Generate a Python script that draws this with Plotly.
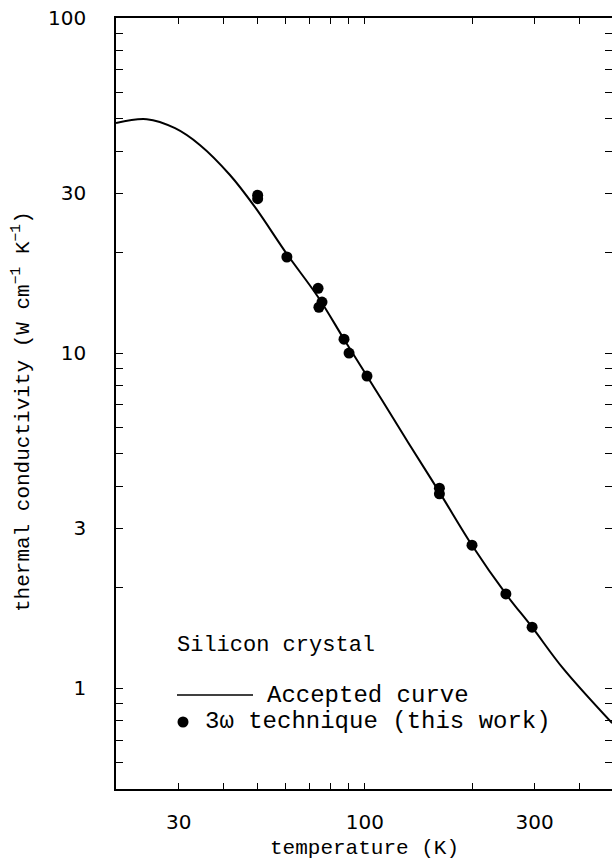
import numpy as np
import plotly.graph_objects as go

# Accepted thermal conductivity curve for crystalline silicon
curve_T = [20, 24.4, 29.3, 34.4, 41.8, 49.1, 60.4, 73.9, 87.4, 101.4,
           111.7, 132.2, 162.6, 200, 249, 295, 360, 495]
curve_k = [48.6, 49.9, 46.9, 41.8, 34.0, 27.3, 19.75, 14.7, 11.0, 8.54,
           7.24, 5.42, 3.82, 2.67, 1.91, 1.52, 1.147, 0.786]

# 3-omega measurements
meas_T = [50, 50, 60.4, 73.9, 75.8, 74.3, 87.4, 90.3, 101.4, 162, 162, 200, 249, 295]
meas_k = [29.6, 28.9, 19.35, 15.6, 14.2, 13.7, 11.0, 10.0, 8.54, 3.95, 3.8, 2.67, 1.91, 1.52]

# Axis ticks
x_ticks = [20, 30, 40, 50, 60, 70, 80, 90, 100, 200, 300, 400]
x_labels = {30: "30", 100: "100", 300: "300"}
y_ticks = [0.5, 0.6, 0.7, 0.8, 0.9, 1, 2, 3, 4, 5, 6, 7, 8, 9, 10,
           20, 30, 40, 50, 60, 70, 80, 90, 100]
y_labels = {1: "1", 3: "3", 10: "10", 30: "30", 100: "100"}

W, H = 612, 860
L, R, T, B = 116, 612, 18, 789
px_per_dec_x = 356.0

def px(x):
    return (x - L) / (R - L)

def py(y):
    return (B - y) / (B - T)

mono = "Liberation Mono"

fig = go.Figure()
fig.add_trace(go.Scatter(
    x=curve_T, y=curve_k, mode="lines",
    line=dict(color="black", width=2, shape="spline", smoothing=1.0),
    showlegend=False, hoverinfo="skip"))
fig.add_trace(go.Scatter(
    x=meas_T, y=meas_k, mode="markers",
    marker=dict(color="black", size=11, line=dict(width=0)),
    showlegend=False))

axis_common = dict(
    type="log", showgrid=False, zeroline=False,
    showline=True, linecolor="black", linewidth=1.6,
    mirror="allticks", ticks="inside", tickcolor="black", tickwidth=1.4,
    tickfont=dict(family="DejaVu Sans", size=20, color="black"),
    tickmode="array",
)

x_max = np.log10(20) + (R - L) / px_per_dec_x
fig.update_xaxes(**axis_common, range=[np.log10(20), x_max],
                 tickvals=x_ticks, ticktext=[x_labels.get(v, "") for v in x_ticks],
                 ticklen=6, ticklabelstandoff=14)
fig.update_yaxes(**axis_common, range=[np.log10(0.5), 2],
                 tickvals=y_ticks, ticktext=[y_labels.get(v, "") for v in y_ticks],
                 ticklen=7, ticklabelstandoff=24)

annotations = [
    dict(text="temperature (K)", x=0.5, y=py(848), xanchor="center", yanchor="middle",
         font=dict(family=mono, size=21, color="black")),
    dict(text="thermal conductivity (W cm<sup>\u22121</sup> K<sup>\u22121</sup>)",
         x=px(22), y=py(412), xanchor="center", yanchor="middle", textangle=-90,
         font=dict(family=mono, size=21, color="black")),
    dict(text="Silicon crystal", x=px(175), y=py(645), xanchor="left", yanchor="middle",
         font=dict(family=mono, size=22, color="black")),
    dict(text="Accepted curve", x=px(265), y=py(695), xanchor="left", yanchor="middle",
         font=dict(family=mono, size=24, color="black")),
    dict(text="3\u03c9 technique (this work)", x=px(203), y=py(721), xanchor="left",
         yanchor="middle", font=dict(family=mono, size=24, color="black")),
]
for a in annotations:
    a.update(xref="paper", yref="paper", showarrow=False)

shapes = [
    dict(type="line", xref="paper", yref="paper", x0=px(177), x1=px(253),
         y0=py(695), y1=py(695), line=dict(color="black", width=1.6)),
    dict(type="circle", xref="paper", yref="paper", xsizemode="pixel", ysizemode="pixel",
         xanchor=px(183), yanchor=py(722), x0=-5.5, x1=5.5, y0=-5.5, y1=5.5,
         fillcolor="black", line=dict(width=0)),
]

fig.update_layout(
    width=W, height=H,
    margin=dict(l=L, r=W - R, t=T, b=H - B, autoexpand=False),
    paper_bgcolor="white", plot_bgcolor="white",
    annotations=annotations, shapes=shapes,
)

fig.write_html("out.html")
